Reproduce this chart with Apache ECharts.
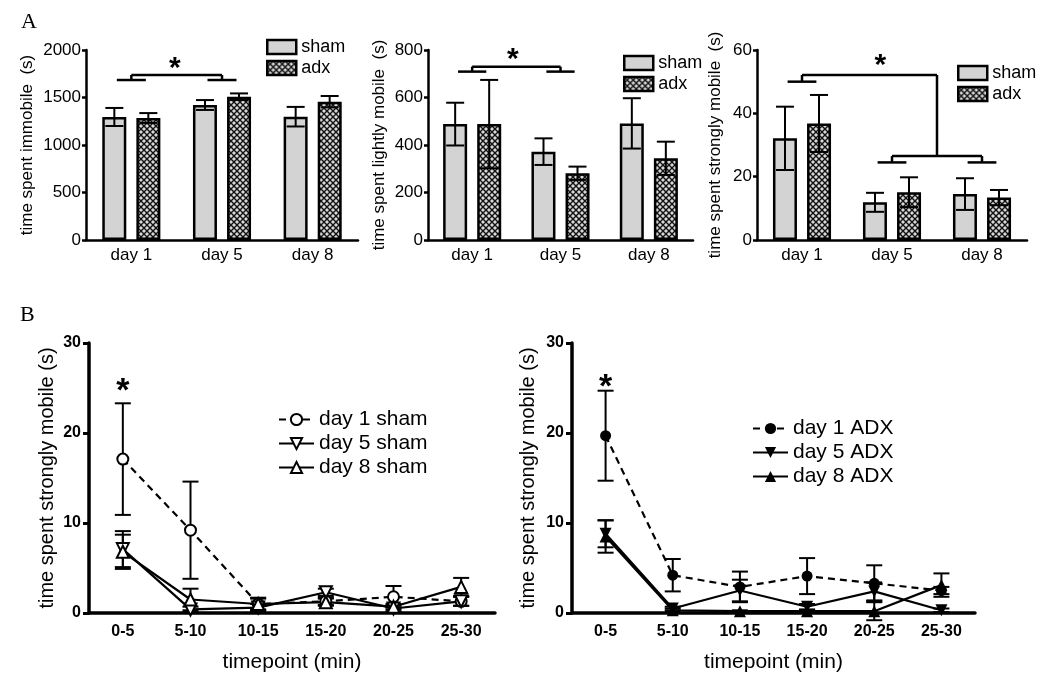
<!DOCTYPE html>
<html><head><meta charset="utf-8">
<script src="https://cdn.jsdelivr.net/npm/echarts@6/dist/echarts.min.js"></script>
<style>html,body{margin:0;padding:0;background:#fff}#c{width:1050px;height:690px}</style>
</head><body><div id="c"></div>
<script>
// ---------- data: panel A ----------
const days = ['day 1', 'day 5', 'day 8'];
const immobileSham = [1295, 1421, 1298];
const immobileShamErr = [95, 52, 103];
const immobileAdx = [1284, 1508, 1456];
const immobileAdxErr = [52, 35, 60];
const lightSham = [488, 372, 491];
const lightShamErr = [90, 56, 106];
const lightAdx = [488, 281, 344];
const lightAdxErr = [186, 28, 70];
const strongSham = [32.1, 11.9, 14.5];
const strongShamErr = [10, 3, 5];
const strongAdx = [36.8, 15.1, 13.4];
const strongAdxErr = [9, 4.7, 2.4];
// brackets: [fromCat, toCat, level, dropLeft, dropRight, subLeft, subRight]
const bracketsImmobile = [[0, 1, 1737, 1684, 1684, 1, 1]];
const bracketsLight = [[0, 1, 730, 709, 709, 1, 1]];
const bracketsStrong = [[0, 1.5, 52.1, 50, 26.5, 1, 0], [1, 2, 26.5, 24.5, 24.5, 1, 1]];
const starsImmobile = [[0.48, 1962]];
const starsLight = [[0.46, 821]];
const starsStrong = [[0.87, 59.9]];

// ---------- data: panel B ----------
const timepoints = ['0-5', '5-10', '10-15', '15-20', '20-25', '25-30'];
const d1Sham = [17.1, 9.2, 1.0, 1.3, 1.8, 1.3];
const d1ShamErr = [6.2, 5.4, 0.6, 0.4, 1.2, 0.5];
const d5Sham = [7.1, 0.4, 0.6, 2.3, 0.5, 1.3];
const d5ShamErr = [2.0, 0.3, 0.4, 0.4, 0.3, 0.5];
const d8Sham = [6.8, 1.5, 1.0, 1.2, 0.7, 2.9];
const d8ShamErr = [1.9, 1.2, 0.7, 0.4, 0.3, 1.0];
const d1Adx = [19.7, 4.2, 2.9, 4.1, 3.3, 2.5];
const d1AdxErr = [5.0, 1.8, 1.7, 2.0, 2.0, 0.4];
const d5Adx = [8.8, 0.5, 2.5, 0.7, 2.4, 0.3];
const d5AdxErr = [1.5, 0.2, 1.2, 0.3, 1.0, 0.2];
const d8Adx = [8.5, 0.3, 0.2, 0.2, 0.2, 3.1];
const d8AdxErr = [1.8, 0.2, 0.1, 0.1, 1.0, 1.3];
const starsShamB = [[0, 26.5]];
const starsAdxB = [[0, 26.9]];

// ---------- helpers ----------
const F = '"Liberation Sans", Arial, sans-serif';
const K = '#000';

function hatchPattern() {
  const c = document.createElement('canvas');
  c.width = 6; c.height = 6;
  const g = c.getContext('2d');
  g.fillStyle = '#d8d8d8'; g.fillRect(0, 0, 6, 6);
  g.strokeStyle = '#111'; g.lineWidth = 1.4;
  g.beginPath();
  g.moveTo(-1, -1); g.lineTo(7, 7);
  g.moveTo(7, -1); g.lineTo(-1, 7);
  g.stroke();
  return { image: c, repeat: 'repeat' };
}
const HATCH = hatchPattern();

function line(x1, y1, x2, y2, w) {
  return { type: 'line', shape: { x1, y1, x2, y2 }, style: { stroke: K, lineWidth: w } };
}

function errRender(offsetPx, capHalf, w) {
  return function (params, api) {
    const i = api.value(0), m = api.value(1), s = api.value(2);
    const top = api.coord([i, m + s]);
    const bot = api.coord([i, m - s]);
    const x = top[0] + offsetPx;
    return {
      type: 'group', children: [
        line(x, top[1], x, bot[1], w),
        line(x - capHalf, top[1], x + capHalf, top[1], w),
        line(x - capHalf, bot[1], x + capHalf, bot[1], w)
      ]
    };
  };
}

function bracketRender(list, hw) {
  return function (params, api) {
    const b = list[params.dataIndex];
    const band = api.size([1, 0])[0];
    const x0 = api.coord([0, 0])[0];
    const X = v => x0 + v * band;
    const Y = v => api.coord([0, v])[1];
    const ch = [];
    ch.push(line(X(b[0]), Y(b[2]), X(b[1]), Y(b[2]), 2.5));
    ch.push(line(X(b[0]), Y(b[2]), X(b[0]), Y(b[3]), 2.5));
    ch.push(line(X(b[1]), Y(b[2]), X(b[1]), Y(b[4]), 2.5));
    if (b[5]) ch.push(line(X(b[0] - hw), Y(b[3]), X(b[0] + hw), Y(b[3]), 2.5));
    if (b[6]) ch.push(line(X(b[1] - hw), Y(b[4]), X(b[1] + hw), Y(b[4]), 2.5));
    return { type: 'group', children: ch };
  };
}

function starRender(list, size) {
  return function (params, api) {
    const s = list[params.dataIndex];
    const band = api.size([1, 0])[0];
    const x0 = api.coord([0, 0])[0];
    const y = api.coord([0, s[1]])[1];
    return {
      type: 'text',
      style: { text: '*', x: x0 + s[0] * band, y: y, font: 'bold ' + size + 'px ' + F,
               fill: K, textAlign: 'center', textVerticalAlign: 'top' }
    };
  };
}

function triples(cat, m, e) { return m.map((v, i) => [i, v, e[i]]); }
const plain = v => String(v);

// ---------- axes ----------
const axisA = { lineStyle: { color: K, width: 2.5 } };
function aX(gi) {
  return { type: 'category', gridIndex: gi, data: days,
    axisLine: axisA, axisTick: { alignWithLabel: true, length: 6, lineStyle: { color: K, width: 2.5 } },
    axisLabel: { color: K, fontSize: 17, margin: 7, fontFamily: F } };
}
function aY(gi, max, interval, name, gap) {
  return { type: 'value', gridIndex: gi, min: 0, max: max, interval: interval,
    name: name, nameLocation: 'middle', nameGap: gap,
    nameTextStyle: { fontSize: 17, color: K, fontFamily: F },
    axisLine: Object.assign({ show: true }, axisA),
    axisTick: { show: true, length: 4, lineStyle: { color: K, width: 2.5 } },
    axisLabel: { color: K, fontSize: 17, margin: 5, fontFamily: F, formatter: plain },
    splitLine: { show: false } };
}
const axisB = { lineStyle: { color: K, width: 3.5 } };
function bX(gi) {
  return { type: 'category', gridIndex: gi, data: timepoints,
    name: 'timepoint (min)', nameLocation: 'middle', nameGap: 39,
    nameTextStyle: { fontSize: 21, color: K, fontFamily: F },
    axisLine: axisB, axisTick: { alignWithLabel: true, length: 6, lineStyle: { color: K, width: 3 } },
    axisLabel: { color: K, fontSize: 16, fontWeight: 'bold', margin: 11, fontFamily: F } };
}
function bY(gi, gap) {
  return { type: 'value', gridIndex: gi, min: 0, max: 30, interval: 10,
    name: 'time spent strongly mobile (s)', nameLocation: 'middle', nameGap: gap,
    nameTextStyle: { fontSize: 20, color: K, fontFamily: F },
    axisLine: Object.assign({ show: true }, axisB),
    axisTick: { show: true, length: 6, lineStyle: { color: K, width: 3 } },
    axisLabel: { color: K, fontSize: 16, fontWeight: 'bold', margin: 8, fontFamily: F, formatter: plain },
    splitLine: { show: false } };
}

// ---------- series builders ----------
const barBorder = { borderColor: K, borderWidth: 2.5 };
function barPanel(gi, sham, shamErr, adx, adxErr, brackets, stars) {
  return [
    { type: 'bar', name: 'sham', xAxisIndex: gi, yAxisIndex: gi, data: sham, barWidth: 24, barGap: '42%',
      itemStyle: Object.assign({ color: '#d3d3d3' }, barBorder), silent: true },
    { type: 'bar', name: 'adx', xAxisIndex: gi, yAxisIndex: gi, data: adx, barWidth: 24, barGap: '42%',
      itemStyle: Object.assign({ color: HATCH }, barBorder), silent: true },
    { type: 'custom', name: 'errS' + gi, xAxisIndex: gi, yAxisIndex: gi, z: 3, silent: true,
      data: triples(days, sham, shamErr), renderItem: errRender(-17, 9, 2) },
    { type: 'custom', name: 'errA' + gi, xAxisIndex: gi, yAxisIndex: gi, z: 3, silent: true,
      data: triples(days, adx, adxErr), renderItem: errRender(17, 9, 2) },
    { type: 'custom', name: 'br' + gi, xAxisIndex: gi, yAxisIndex: gi, z: 3, silent: true,
      data: brackets.map(b => [0, b[2]]), renderItem: bracketRender(brackets, 0.16) },
    { type: 'custom', name: 'st' + gi, xAxisIndex: gi, yAxisIndex: gi, z: 3, silent: true,
      data: stars.map(s => [0, s[1]]), renderItem: starRender(stars, 30) }
  ];
}

const DOWN = 'path://M0,0L12,0L6,10.4Z';
function lineSeries(gi, name, data, symbol, filled, dashed) {
  return { type: 'line', name: name, xAxisIndex: gi, yAxisIndex: gi, data: data, z: 4,
    symbol: symbol, symbolSize: symbol === 'circle' ? 11 : 12,
    lineStyle: { color: K, width: 2.2, type: dashed ? [7, 5] : 'solid' },
    itemStyle: { color: filled ? K : '#fff', borderColor: K, borderWidth: filled ? 0 : 2 },
    silent: true, animation: false };
}
let eCount = 0;
function errB(gi, m, e) {
  eCount++;
  return { type: 'custom', name: 'e' + gi + '_' + eCount, xAxisIndex: gi, yAxisIndex: gi, z: 3, silent: true,
    data: triples(timepoints, m, e), renderItem: errRender(0, 8, 2) };
}

const legendA = (left, top) => ({
  data: ['sham', 'adx'], orient: 'vertical', left: left, top: top, padding: 0,
  itemWidth: 29, itemHeight: 14, itemGap: 3,
  icon: 'rect', selectedMode: false, itemStyle: { borderColor: K, borderWidth: 2.5 },
  textStyle: { fontSize: 18, color: K, fontFamily: F }
});
const legendB = (names, left, top) => ({
  data: names, orient: 'vertical', left: left, top: top, padding: 0,
  itemWidth: 35, itemHeight: 14, itemGap: 3,
  selectedMode: false, textStyle: { fontSize: 21, color: K, fontFamily: F }
});

const shamNames = ['day 1 sham', 'day 5 sham', 'day 8 sham'];
const adxNames = ['day 1 ADX', 'day 5 ADX', 'day 8 ADX'];

const option = {
  animation: false,
  backgroundColor: '#fff',
  title: [
    { text: 'A', left: 16, top: 6, textStyle: { fontFamily: '"Liberation Serif", "Times New Roman", serif', fontSize: 22, fontWeight: 'normal', color: K } },
    { text: 'B', left: 15, top: 299, textStyle: { fontFamily: '"Liberation Serif", "Times New Roman", serif', fontSize: 22, fontWeight: 'normal', color: K } }
  ],
  grid: [
    { left: 86, top: 50, width: 272, height: 190 },
    { left: 428, top: 50, width: 265, height: 190 },
    { left: 757, top: 50, width: 270, height: 190 },
    { left: 89, top: 343, width: 406, height: 270 },
    { left: 572, top: 343, width: 403, height: 270 }
  ],
  xAxis: [aX(0), aX(1), aX(2), bX(3), bX(4)],
  yAxis: [
    aY(0, 2000, 500, 'time spent immobile  (s)', 50),
    aY(1, 800, 200, 'time spent lightly mobile  (s)', 40),
    aY(2, 60, 20, 'time spent strongly mobile  (s)', 33),
    bY(3, 32), bY(4, 34)
  ],
  legend: [
    legendA(266, 38), legendA(623, 54), legendA(957, 64),
    legendB(shamNames, 278, 409), legendB(adxNames, 752, 418)
  ],
  series: [].concat(
    barPanel(0, immobileSham, immobileShamErr, immobileAdx, immobileAdxErr, bracketsImmobile, starsImmobile),
    barPanel(1, lightSham, lightShamErr, lightAdx, lightAdxErr, bracketsLight, starsLight),
    barPanel(2, strongSham, strongShamErr, strongAdx, strongAdxErr, bracketsStrong, starsStrong),
    [
      errB(3, d1Sham, d1ShamErr), errB(3, d5Sham, d5ShamErr), errB(3, d8Sham, d8ShamErr),
      lineSeries(3, shamNames[0], d1Sham, 'circle', false, true),
      lineSeries(3, shamNames[1], d5Sham, DOWN, false, false),
      lineSeries(3, shamNames[2], d8Sham, 'triangle', false, false),
      { type: 'custom', name: 'stB3', xAxisIndex: 3, yAxisIndex: 3, z: 3, silent: true,
        data: starsShamB.map(s => [0, s[1]]), renderItem: starRender(starsShamB, 34) },
      errB(4, d1Adx, d1AdxErr), errB(4, d5Adx, d5AdxErr), errB(4, d8Adx, d8AdxErr),
      lineSeries(4, adxNames[0], d1Adx, 'circle', true, true),
      lineSeries(4, adxNames[1], d5Adx, DOWN, true, false),
      lineSeries(4, adxNames[2], d8Adx, 'triangle', true, false),
      { type: 'custom', name: 'stB4', xAxisIndex: 4, yAxisIndex: 4, z: 3, silent: true,
        data: starsAdxB.map(s => [0, s[1]]), renderItem: starRender(starsAdxB, 34) }
    ]
  )
};

const chart = echarts.init(document.getElementById('c'), null, { renderer: 'canvas' });
chart.setOption(option);
</script>
</body></html>
